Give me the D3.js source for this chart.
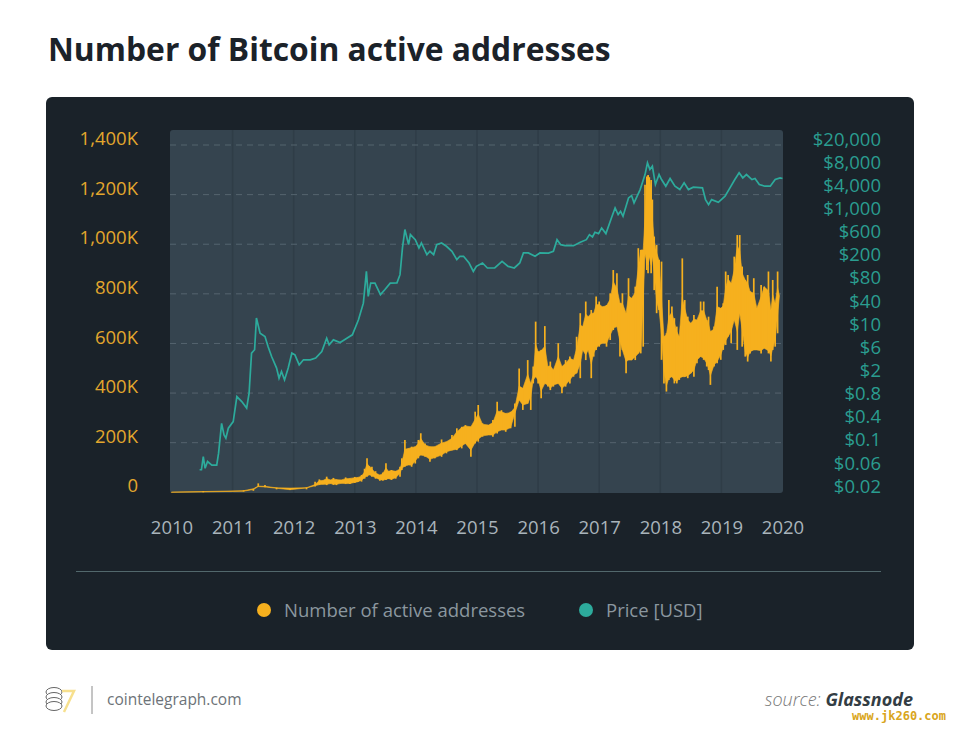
<!DOCTYPE html>
<html>
<head>
<meta charset="utf-8">
<script src="https://cdnjs.cloudflare.com/ajax/libs/d3/7.8.5/d3.min.js"></script>
<style>
	html, body { margin: 0; padding: 0; background: #fff; }
	text { font-family: "Open Sans", sans-serif; }
</style>
</head>
<body>
<div class="chartDiv"></div>
<script>
// tick labels
var yearTicks = [2010, 2011, 2012, 2013, 2014, 2015, 2016, 2017, 2018, 2019, 2020];
var addressTicks = [0, 200, 400, 600, 800, 1000, 1200, 1400];
var priceTicks = ["$0.02", "$0.06", "$0.1", "$0.4", "$0.8", "$2", "$6", "$10", "$40", "$80", "$200", "$600", "$1,000", "$4,000", "$8,000", "$20,000"];

// price [USD]
var priceYears = [2010.46, 2010.49, 2010.52, 2010.55, 2010.59, 2010.66, 2010.74, 2010.77, 2010.82, 2010.86, 2010.89, 2010.93, 2011.01, 2011.07, 2011.15, 2011.23, 2011.27, 2011.31, 2011.36, 2011.39, 2011.45, 2011.53, 2011.58, 2011.64, 2011.72, 2011.76, 2011.80, 2011.85, 2011.91, 2011.97, 2012.02, 2012.09, 2012.16, 2012.27, 2012.36, 2012.46, 2012.54, 2012.58, 2012.65, 2012.76, 2012.87, 2012.96, 2013.06, 2013.14, 2013.19, 2013.22, 2013.26, 2013.33, 2013.42, 2013.49, 2013.58,
	2013.69, 2013.74, 2013.78, 2013.82, 2013.88, 2013.91, 2013.99, 2014.05, 2014.09, 2014.18, 2014.23, 2014.29, 2014.34, 2014.42, 2014.50, 2014.59, 2014.67, 2014.72, 2014.78, 2014.87, 2014.94, 2014.99, 2015.09, 2015.17, 2015.29, 2015.41, 2015.51, 2015.61, 2015.70, 2015.76, 2015.84, 2015.95, 2016.03,
	2016.17, 2016.25, 2016.31, 2016.37, 2016.44, 2016.58, 2016.69, 2016.79, 2016.84, 2016.89, 2016.93, 2016.99, 2017.04, 2017.11, 2017.20, 2017.26, 2017.31, 2017.35, 2017.39, 2017.48, 2017.53, 2017.57, 2017.67, 2017.75, 2017.79,
	2017.83, 2017.87, 2017.92, 2017.98, 2018.02, 2018.09, 2018.16, 2018.24, 2018.32, 2018.39, 2018.46, 2018.54, 2018.69, 2018.74, 2018.79, 2018.84, 2018.95, 2019.06, 2019.14, 2019.22, 2019.29, 2019.35, 2019.41, 2019.50, 2019.55, 2019.62, 2019.71, 2019.80, 2019.88, 2019.96, 2020.00];
var priceValues = [0.049, 0.049, 0.083, 0.052, 0.068, 0.059, 0.059, 0.094, 0.31, 0.196, 0.172, 0.256, 0.333, 0.90, 0.74, 0.57, 1.03, 5.07, 5.8, 20.5, 11.2, 9.8, 6.6, 4.4, 2.8, 1.87, 2.44, 1.75, 2.8, 5.07, 4.74, 3.18, 3.89, 3.89, 4.16, 5.42, 9.2, 7.06, 8.6, 7.76, 9.2, 10.5, 19.1, 37, 131, 48.5, 82, 82, 52, 63, 82,
	83, 115, 333, 692, 380, 566, 463, 333, 406, 255, 292, 255, 380, 406, 356, 292, 209, 239, 239, 183, 131, 160, 183, 150, 150, 196, 160, 150, 183, 273, 273, 239, 273,
	272, 291, 463, 379, 365, 365, 417, 463, 565, 515, 621, 589, 738, 589, 1099, 1637, 1254, 1432, 1175, 2437, 2673, 1995, 3396, 6166, 9820,
	7550, 8610, 4150, 6180, 5060, 3880, 5270, 3880, 3400, 4430, 3400, 3730, 3630, 2280, 1870, 2280, 2050, 2610, 3630, 5060, 6610, 5410, 6180, 5060, 5270, 4150, 3880, 3880, 5060, 5410, 5270];

// active addresses (K): upper and lower edge of the noisy band
var addressYears = [2010.00, 2010.52, 2011.18, 2011.34, 2011.42, 2011.53, 2011.72, 2011.94, 2012.21, 2012.35, 2012.42, 2012.48, 2012.54, 2012.60, 2012.65, 2012.70, 2012.78, 2012.85, 2012.92, 2013.00, 2013.05, 2013.11, 2013.16, 2013.20, 2013.24, 2013.28, 2013.34, 2013.41, 2013.46, 2013.51, 2013.55, 2013.60, 2013.67, 2013.74,
	2013.77, 2013.82, 2013.88, 2013.93, 2013.99, 2014.04, 2014.08, 2014.15, 2014.23, 2014.31, 2014.42, 2014.50, 2014.59, 2014.67, 2014.75, 2014.81, 2014.90, 2014.97, 2015.02, 2015.09, 2015.19, 2015.26, 2015.33, 2015.40, 2015.47, 2015.55, 2015.62, 2015.69, 2015.75,
	2015.83, 2015.88, 2015.92, 2015.96, 2016.00, 2016.05, 2016.11, 2016.16, 2016.20, 2016.25, 2016.33, 2016.39, 2016.45, 2016.52, 2016.58, 2016.63, 2016.69, 2016.73, 2016.78, 2016.82, 2016.87, 2016.91, 2016.95, 2017.00, 2017.05, 2017.12, 2017.18, 2017.23, 2017.29, 2017.34, 2017.38, 2017.44, 2017.48, 2017.53, 2017.59, 2017.64, 2017.68, 2017.72, 2017.75, 2017.78, 2017.80, 2017.82, 2017.85, 2017.87, 2017.90,
	2017.94, 2017.98, 2018.02, 2018.06, 2018.10, 2018.14, 2018.19, 2018.23, 2018.27, 2018.31, 2018.36, 2018.40, 2018.45, 2018.50, 2018.55, 2018.60, 2018.66, 2018.71, 2018.76, 2018.79, 2018.82, 2018.88, 2018.93, 2018.99, 2019.03, 2019.07, 2019.11, 2019.16, 2019.21, 2019.26, 2019.30, 2019.34, 2019.39, 2019.43, 2019.47, 2019.53, 2019.58, 2019.65, 2019.70, 2019.77, 2019.81, 2019.84, 2019.88, 2019.92, 2019.95];
var addressHigh = [1, 5, 8, 14, 36, 29, 19, 17, 20, 43, 52, 48, 63, 50, 58, 52, 50, 60, 56, 62, 60, 70, 95, 137, 105, 103, 85, 70, 80, 117, 85, 90, 85, 103,
	137, 211, 177, 184, 184, 211, 238, 197, 184, 184, 213, 204, 231, 258, 264, 271, 264, 325, 352, 278, 271, 291, 365, 331, 318, 325, 358, 499, 419,
	533, 439, 507, 688, 567, 574, 670, 507, 527, 493, 601, 507, 533, 547, 533, 627, 722, 668, 769, 708, 735, 722, 789, 769, 748, 755, 802, 896, 883, 762, 802, 722, 863, 782, 829, 984, 977, 977, 1240, 1273, 1279, 1270, 1259, 1180, 1031,
	997, 937, 930, 628, 641, 775, 749, 702, 668, 628, 943, 775, 708, 681, 715, 695, 769, 769, 695, 708, 648, 668, 829, 742, 762, 890, 876, 843, 950, 1037, 1037, 910, 856, 876, 809, 863, 742, 836, 829, 890, 735, 856, 762, 890, 792];
var addressLow = [0, 0, 3, 6, 23, 20, 12, 9, 12, 23, 30, 32, 29, 35, 30, 29, 36, 34, 33, 38, 42, 43, 55, 63, 70, 63, 55, 47, 48, 50, 55, 50, 55, 63,
	90, 103, 110, 103, 116, 137, 150, 143, 123, 137, 143, 157, 170, 170, 177, 197, 143, 197, 204, 224, 231, 224, 237, 251, 244, 258, 264, 372, 332,
	358, 332, 439, 466, 439, 379, 439, 426, 412, 426, 439, 399, 426, 439, 466, 480, 460, 574, 533, 574, 460, 547, 574, 587, 601, 587, 614, 654, 668, 547, 574, 480, 533, 533, 533, 560, 560, 587, 960, 896, 883, 950, 883, 950, 815,
	722, 735, 534, 439, 406, 453, 466, 439, 439, 453, 466, 466, 460, 480, 466, 520, 547, 534, 507, 493, 433, 507, 520, 534, 574, 594, 628, 601, 695, 574, 722, 587, 547, 527, 560, 574, 574, 560, 581, 560, 527, 574, 587, 641, 792];

var svg = d3.select(".chartDiv")
	.append("svg")
	.attr("width", 960)
	.attr("height", 733)
	.style("display", "block");

svg.append("text")
	.attr("x", 48)
	.attr("y", 61)
	.attr("font-size", 31.8)
	.attr("font-weight", 700)
	.attr("fill", "#1b2229")
	.text("Number of Bitcoin active addresses");

// panels
svg.append("rect")
	.attr("x", 46).attr("y", 97)
	.attr("width", 868).attr("height", 553)
	.attr("rx", 6)
	.attr("fill", "#1a2229");

svg.append("rect")
	.attr("x", 170).attr("y", 130)
	.attr("width", 613).attr("height", 363)
	.attr("rx", 3)
	.attr("fill", "#35444f");

// scales
var x = d3.scaleLinear().domain([2010, 2020]).range([171.5, 782.5]);
var yAddress = d3.scaleLinear().domain([0, 1400]).range([492.3, 145]);
var yPrice = d3.scaleLog().domain([0.02, 20000]).range([492.3, 145]);
var yPriceLabels = d3.scalePoint().domain(priceTicks).range([492.3, 145]);

// grid
svg.append("g").selectAll("line")
	.data(yearTicks.slice(1, -1))
	.join("line")
	.attr("x1", d => x(d)).attr("x2", d => x(d))
	.attr("y1", 130).attr("y2", 493)
	.attr("stroke", "#2f3d47")
	.attr("stroke-width", 1.5);

svg.append("g").selectAll("line")
	.data(addressTicks.slice(1))
	.join("line")
	.attr("x1", 170).attr("x2", 783)
	.attr("y1", d => yAddress(d)).attr("y2", d => yAddress(d))
	.attr("stroke", "#55646f")
	.attr("stroke-width", 1)
	.attr("stroke-dasharray", "6 5");

// series
// solid core pulled halfway towards what the neighbours share, so edges stay rough and spikes thin
var addressRows = addressYears.map((d, i) => {
	var h = (addressHigh[i] + d3.min(addressHigh.slice(Math.max(i - 1, 0), i + 2))) / 2;
	var l = (addressLow[i] + d3.max(addressLow.slice(Math.max(i - 1, 0), i + 2))) / 2;
	return { year: d, high: Math.max(h, l), low: Math.min(h, l), topValue: addressHigh[i], bottomValue: addressLow[i] };
});

svg.append("path")
	.datum(addressRows)
	.attr("d", d3.area()
		.x(d => x(d.year))
		.y0(d => yAddress(d.low))
		.y1(d => yAddress(d.high)))
	.attr("fill", "#f6b01e")
	.attr("stroke", "#f6b01e")
	.attr("stroke-width", 0.6);

svg.append("g").selectAll("line")
	.data(addressRows)
	.join("line")
	.attr("x1", d => x(d.year)).attr("x2", d => x(d.year))
	.attr("y1", d => yAddress(d.topValue))
	.attr("y2", d => yAddress(d.bottomValue))
	.attr("stroke", "#f6b01e")
	.attr("stroke-width", 1.7);

svg.append("path")
	.datum(priceYears.map((d, i) => [d, priceValues[i]]))
	.attr("d", d3.line().x(d => x(d[0])).y(d => yPrice(d[1])))
	.attr("fill", "none")
	.attr("stroke", "#2dab9c")
	.attr("stroke-width", 1.7);

// axes
var leftAxis = svg.append("g")
	.attr("transform", "translate(138,0)")
	.call(d3.axisLeft(yAddress).tickValues(addressTicks).tickSize(0).tickPadding(0)
		.tickFormat(d => d == 0 ? "0" : d3.format(",")(d) + "K"));

var rightAxis = svg.append("g")
	.attr("transform", "translate(881,0)")
	.call(d3.axisLeft(yPriceLabels).tickSize(0).tickPadding(0));

var bottomAxis = svg.append("g")
	.attr("transform", "translate(0,493)")
	.call(d3.axisBottom(x).tickValues(yearTicks).tickSize(0).tickPadding(0)
		.tickFormat(d3.format("d")));

[leftAxis, rightAxis, bottomAxis].forEach(a => {
	a.select(".domain").remove();
	a.selectAll("text").attr("font-size", 18.5).style("font-family", '"Open Sans", sans-serif');
});
leftAxis.selectAll("text").attr("fill", "#e3a72d").attr("dy", "-0.02em");
rightAxis.selectAll("text").attr("fill", "#2a9d90").attr("dy", "0em");
bottomAxis.selectAll("text").attr("fill", "#a9b4bb").attr("y", 41).attr("dy", 0);

// legend
svg.append("line")
	.attr("x1", 76).attr("x2", 881)
	.attr("y1", 571.5).attr("y2", 571.5)
	.attr("stroke", "#52686c");

var legendNames = ["Number of active addresses", "Price [USD]"];
var legendColors = ["#f6b01e", "#2dab9c"];
var legendDots = [264, 586];

legendNames.forEach((name, i) => {
	svg.append("circle")
		.attr("cx", legendDots[i]).attr("cy", 610)
		.attr("r", 7)
		.attr("fill", legendColors[i]);
	svg.append("text")
		.attr("x", legendDots[i] + 20)
		.attr("y", 617)
		.attr("font-size", 18.5)
		.attr("fill", "#8b979f")
		.text(name);
});

// footer
var logo = svg.append("g").attr("fill", "none").attr("stroke", "#666").attr("stroke-width", 1);
[692, 697, 702, 706].forEach(cy => {
	logo.append("ellipse").attr("cx", 54).attr("cy", cy).attr("rx", 8).attr("ry", 4.5).attr("fill", "#fff");
});
svg.append("path")
	.attr("d", "M62 691L74 691L64 712")
	.attr("fill", "none")
	.attr("stroke", "#f7e08e")
	.attr("stroke-width", 2.5);

svg.append("line")
	.attr("x1", 92).attr("x2", 92)
	.attr("y1", 686).attr("y2", 714)
	.attr("stroke", "#8a8a8a");

svg.append("text")
	.attr("x", 107).attr("y", 705)
	.attr("font-size", 15.5)
	.attr("fill", "#6d7378")
	.text("cointelegraph.com");

var source = svg.append("text")
	.attr("x", 913).attr("y", 706)
	.attr("text-anchor", "end")
	.attr("font-size", 18)
	.attr("font-style", "italic");
source.append("tspan").attr("fill", "#777").attr("font-weight", 300).text("source: ");
source.append("tspan").attr("fill", "#333d44").attr("font-weight", 700).text("Glassnode");

svg.append("text")
	.attr("x", 946).attr("y", 720)
	.attr("text-anchor", "end")
	.attr("font-size", 12)
	.attr("font-weight", 700)
	.style("font-family", '"DejaVu Sans Mono", monospace')
	.attr("fill", "#d9a520")
	.text("www.jk260.com");
</script>
</body>
</html>
